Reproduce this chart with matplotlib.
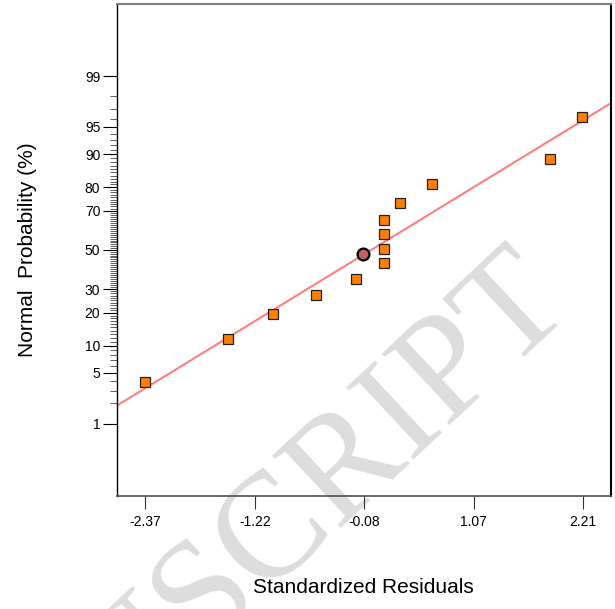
from statistics import NormalDist

import numpy as np
import matplotlib
from matplotlib import pyplot as plt

matplotlib.use("agg")
plt.rcParams["font.family"] = ["Liberation Sans", "DejaVu Sans"]

# standardized residuals (x) and normal probability in % (y)
resid = [-2.37, -1.50, -1.03, -0.58, -0.16, 0.13, 0.13, 0.13, 0.13, 0.30, 0.63, 1.87, 2.20]
prob = [3.9, 11.8, 19.5, 27.2, 35.1, 42.8, 50.4, 58.2, 65.8, 73.4, 81.1, 88.7, 96.2]

# highlighted point
sel_resid = [-0.09]
sel_prob = [47.7]

# reference line end points
line_x = [-2.66, 2.50]
line_prob = [1.88, 97.5]

x_ticks = [-2.37, -1.22, -0.08, 1.07, 2.21]
y_ticks = [1, 5, 10, 20, 30, 50, 70, 80, 90, 95, 99]
y_minor = [p for p in range(2, 99) if p not in y_ticks]

nd = NormalDist()


def to_z(p):
    p = np.clip(np.asarray(p, dtype=float), 1e-6, 100 - 1e-6)
    return np.vectorize(lambda v: nd.inv_cdf(v / 100.0), otypes=[float])(p)


def from_z(z):
    z = np.asarray(z, dtype=float)
    return np.vectorize(lambda v: nd.cdf(v) * 100.0, otypes=[float])(z)


fig = plt.figure(figsize=(6.15, 6.09), dpi=100)
ax = fig.add_axes([117 / 615, 1 - 496 / 609, (610.5 - 117) / 615, (496 - 4) / 609])
ax.patch.set_alpha(0)
ax.set_yscale("function", functions=(to_z, from_z))

ax.plot(line_x, line_prob, color="#ff7f7f", lw=1.5, zorder=2)
ax.plot(resid, prob, ls="none", marker="s", ms=6.8, mfc="#ff8000", mec="#222222", mew=0.9, zorder=3)
ax.plot(sel_resid, sel_prob, ls="none", marker="o", ms=8.5, mfc="#c06060", mec="black", mew=1.6, zorder=4)

ax.set_xlim(-2.663, 2.50)
ax.set_ylim(0.0497, 99.95)

ax.set_xticks(x_ticks)
ax.set_xticklabels([f"{v:.2f}" for v in x_ticks])
ax.set_yticks(y_ticks)
ax.set_yticklabels([str(v) for v in y_ticks])
ax.set_yticks(y_minor, minor=True)
ax.xaxis.set_minor_locator(matplotlib.ticker.NullLocator())

ax.tick_params(axis="y", which="major", length=10, width=0.8, pad=2, labelsize=10)
ax.tick_params(axis="y", which="minor", length=5, width=0.6, color="#444444")
ax.tick_params(axis="x", which="major", length=9, width=0.8, pad=5, labelsize=10, color="#333333")

ax.spines["top"].set_color("#808080")
ax.spines["top"].set_linewidth(1.5)
ax.spines["right"].set_color("black")
ax.spines["right"].set_linewidth(1.5)
ax.spines["bottom"].set_color("#505050")
ax.spines["bottom"].set_linewidth(1.2)
ax.spines["left"].set_linewidth(1.0)

ax.set_ylabel("Normal  Probability (%)", fontsize=15)
ax.set_xlabel("Standardized Residuals", fontsize=15)
ax.yaxis.set_label_coords(-0.162, 0.5)
ax.xaxis.set_label_coords(0.5, -0.166)

# watermark
fig.text(574 / 615, 1 - 306 / 609, "MANUSCRIPT", rotation=43, rotation_mode="anchor",
         ha="right", va="baseline", fontsize=108, family="Liberation Serif",
         color="#dddddd", zorder=-1)

fig.savefig("out.png", dpi=100)
